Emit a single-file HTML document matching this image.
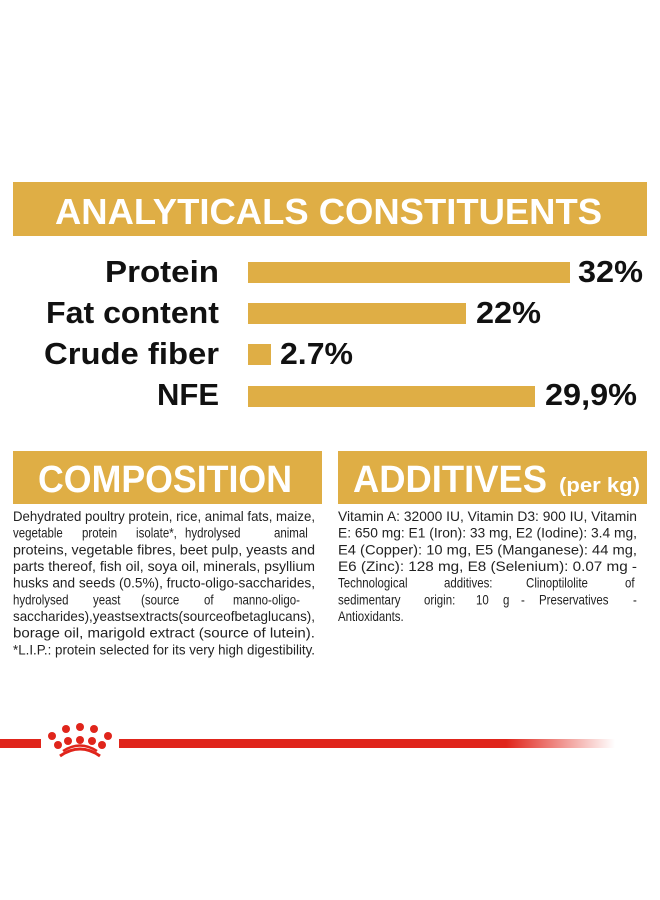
<!DOCTYPE html>
<html><head><meta charset="utf-8"><style>
html,body{margin:0;padding:0;background:#fff;}
svg{display:block}
</style></head><body>
<svg width="660" height="900" viewBox="0 0 660 900" xmlns="http://www.w3.org/2000/svg">
<defs>
<linearGradient id="fade" x1="0" x2="1" y1="0" y2="0">
<stop offset="0" stop-color="#e0251b"/><stop offset="0.78" stop-color="#e0251b"/><stop offset="1" stop-color="#e0251b" stop-opacity="0"/>
</linearGradient>
</defs>
<g font-family="Liberation Sans, sans-serif">
<rect x="13" y="182" width="634" height="54" fill="#dfae45"/>
<text x="55" y="224" font-size="36" font-weight="bold" fill="#fff" textLength="547" lengthAdjust="spacingAndGlyphs">ANALYTICALS CONSTITUENTS</text>

<g fill="#dfae45">
<rect x="248" y="262" width="322" height="21"/>
<rect x="248" y="303" width="218" height="21"/>
<rect x="248" y="344" width="23" height="21"/>
<rect x="248" y="386" width="287" height="21"/>
</g>
<g font-size="31" font-weight="bold" fill="#111" text-anchor="end">
<text x="219" y="282" textLength="114" lengthAdjust="spacingAndGlyphs">Protein</text>
<text x="219" y="323" textLength="173" lengthAdjust="spacingAndGlyphs">Fat content</text>
<text x="219" y="364" textLength="175" lengthAdjust="spacingAndGlyphs">Crude fiber</text>
<text x="219" y="405" textLength="62" lengthAdjust="spacingAndGlyphs">NFE</text>
</g>
<g font-size="31" font-weight="bold" fill="#111">
<text x="578" y="282" textLength="65" lengthAdjust="spacingAndGlyphs">32%</text>
<text x="476" y="323" textLength="65" lengthAdjust="spacingAndGlyphs">22%</text>
<text x="280" y="364" textLength="73" lengthAdjust="spacingAndGlyphs">2.7%</text>
<text x="545" y="405" textLength="92" lengthAdjust="spacingAndGlyphs">29,9%</text>
</g>

<rect x="13" y="451" width="309" height="53" fill="#dfae45"/>
<rect x="338" y="451" width="309" height="53" fill="#dfae45"/>
<text x="38" y="492" font-size="38" font-weight="bold" fill="#fff" textLength="254" lengthAdjust="spacingAndGlyphs">COMPOSITION</text>
<text x="353" y="492" font-size="38" font-weight="bold" fill="#fff" textLength="194" lengthAdjust="spacingAndGlyphs">ADDITIVES</text>
<text x="559" y="492" font-size="20" font-weight="bold" fill="#fff" textLength="81" lengthAdjust="spacingAndGlyphs">(per kg)</text>

<g font-size="14" fill="#222">
<text x="13" y="521" textLength="302" lengthAdjust="spacingAndGlyphs">Dehydrated poultry protein, rice, animal fats, maize,</text>
<g transform="translate(0,537.7) scale(0.82,1)">
<text x="15.9">vegetable</text><text x="100">protein</text><text x="165.9">isolate*,</text><text x="225.6">hydrolysed</text><text x="334.1">animal</text>
</g>
<text x="13" y="554.3" textLength="302" lengthAdjust="spacingAndGlyphs">proteins, vegetable fibres, beet pulp, yeasts and</text>
<text x="13" y="571" textLength="302" lengthAdjust="spacingAndGlyphs">parts thereof, fish oil, soya oil, minerals, psyllium</text>
<text x="13" y="587.7" textLength="302" lengthAdjust="spacingAndGlyphs">husks and seeds (0.5%), fructo-oligo-saccharides,</text>
<g transform="translate(0,604.3) scale(0.82,1)">
<text x="15.9">hydrolysed</text><text x="113.4">yeast</text><text x="172">(source</text><text x="248.8">of</text><text x="284.1">manno-oligo-</text>
</g>
<text x="13" y="621" textLength="302" lengthAdjust="spacingAndGlyphs">saccharides),yeastsextracts(sourceofbetaglucans),</text>
<text x="13" y="637.7" textLength="302" lengthAdjust="spacingAndGlyphs">borage oil, marigold extract (source of lutein).</text>
<text x="13" y="654.3" textLength="302" lengthAdjust="spacingAndGlyphs">*L.I.P.: protein selected for its very high digestibility.</text>

<text x="338" y="521" textLength="299" lengthAdjust="spacingAndGlyphs">Vitamin A: 32000 IU, Vitamin D3: 900 IU, Vitamin</text>
<text x="338" y="537.7" textLength="299" lengthAdjust="spacingAndGlyphs">E: 650 mg: E1 (Iron): 33 mg, E2 (Iodine): 3.4 mg,</text>
<text x="338" y="554.3" textLength="299" lengthAdjust="spacingAndGlyphs">E4 (Copper): 10 mg, E5 (Manganese): 44 mg,</text>
<text x="338" y="571" textLength="299" lengthAdjust="spacingAndGlyphs">E6 (Zinc): 128 mg, E8 (Selenium): 0.07 mg -</text>
<g transform="translate(0,587.7) scale(0.82,1)">
<text x="412.2">Technological</text><text x="541.5">additives:</text><text x="641.5">Clinoptilolite</text><text x="762.2">of</text>
</g>
<g transform="translate(0,604.3) scale(0.82,1)">
<text x="412.2">sedimentary</text><text x="517.1">origin:</text><text x="580.5">10</text><text x="613.4">g</text><text x="635.4">-</text><text x="657.3">Preservatives</text><text x="772">-</text>
</g>
<g transform="translate(0,621) scale(0.82,1)"><text x="412.2">Antioxidants.</text></g>
</g>

<rect x="0" y="739" width="41" height="9" fill="#e0251b"/>
<rect x="119" y="739" width="496" height="9" fill="url(#fade)"/>
<g fill="#e0251b">
<circle cx="66" cy="729" r="4"/><circle cx="80" cy="727" r="4"/><circle cx="94" cy="729" r="4"/>
<circle cx="52" cy="736" r="4"/><circle cx="108" cy="736" r="4"/>
<circle cx="68" cy="741" r="4"/><circle cx="80" cy="740" r="4"/><circle cx="92" cy="741" r="4"/>
<circle cx="58" cy="745" r="4"/><circle cx="102" cy="745" r="4"/>
</g>
<path d="M60 756 Q80 742 100 756" stroke="#e0251b" stroke-width="3" fill="none"/>
<path d="M63 751 Q80 740 97 751" stroke="#e0251b" stroke-width="2.5" fill="none"/>
</g>
</svg>
</body></html>
